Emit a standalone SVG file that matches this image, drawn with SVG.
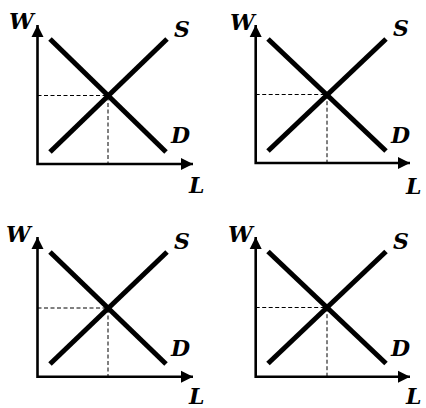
<svg xmlns="http://www.w3.org/2000/svg" width="426" height="408" viewBox="0 0 426 408">
<style>
.ax{fill:none;stroke:#000;stroke-width:2.6;marker-start:url(#ah);marker-end:url(#ah)}
.cv{stroke:#000;stroke-width:5;fill:none}
.ds{stroke:#000;stroke-width:1;stroke-dasharray:4 2.5;fill:none}
.lb{font-family:"DejaVu Serif","Liberation Serif",serif;font-weight:bold;font-style:italic;font-size:22px;fill:#000}
</style>
<defs>
<marker id="ah" markerUnits="userSpaceOnUse" markerWidth="13" markerHeight="13" refX="12" refY="6" orient="auto-start-reverse" viewBox="0 0 13 12">
<path d="M0,0 L12,6 L0,12 z" fill="#000"/>
</marker>
</defs>
<rect width="426" height="408" fill="#fff"/>
<g id="panel1">
<path class="ax" d="M37.5,25 L37.5,164 L193,164"/>
<line class="cv" x1="50" y1="39" x2="166" y2="152"/>
<line class="cv" x1="50" y1="152" x2="167" y2="39"/>
<path class="ds" d="M37.5,95.5 H108 V164"/>
<text class="lb" x="9" y="29">W</text>
<text class="lb" x="174" y="37">S</text>
<text class="lb" x="171" y="143">D</text>
<text class="lb" x="189" y="193">L</text>
</g>
<g id="panel2">
<path class="ax" d="M255.7,25 L255.7,163 L410,163"/>
<line class="cv" x1="268" y1="39" x2="386" y2="151"/>
<line class="cv" x1="268" y1="151" x2="386" y2="39"/>
<path class="ds" d="M255.7,94.5 H327 V163"/>
<text class="lb" x="230" y="30">W</text>
<text class="lb" x="393" y="36">S</text>
<text class="lb" x="391" y="143">D</text>
<text class="lb" x="406" y="194">L</text>
</g>
<g id="panel3">
<path class="ax" d="M37.5,237 L37.5,376.7 L193,376.7"/>
<line class="cv" x1="50" y1="252" x2="166" y2="364"/>
<line class="cv" x1="50" y1="364" x2="167" y2="252"/>
<path class="ds" d="M37.5,308 H108 V376.7"/>
<text class="lb" x="6" y="242">W</text>
<text class="lb" x="174" y="249">S</text>
<text class="lb" x="171" y="356">D</text>
<text class="lb" x="189" y="404">L</text>
</g>
<g id="panel4">
<path class="ax" d="M255.7,237 L255.7,376.7 L410,376.7"/>
<line class="cv" x1="268" y1="251.5" x2="386" y2="363.5"/>
<line class="cv" x1="268" y1="363.5" x2="386" y2="251.5"/>
<path class="ds" d="M255.7,307.5 H327 V376.7"/>
<text class="lb" x="228" y="242">W</text>
<text class="lb" x="393" y="249">S</text>
<text class="lb" x="391" y="356">D</text>
<text class="lb" x="406" y="404">L</text>
</g>
</svg>
